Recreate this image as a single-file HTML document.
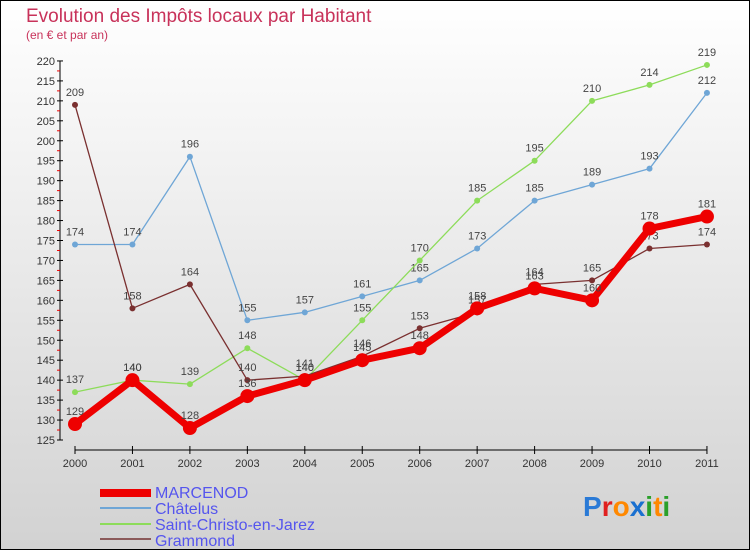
<!DOCTYPE html>
<html><head><meta charset="utf-8"><style>
body{margin:0;}
#c{width:750px;height:550px;position:relative;font-family:"Liberation Sans",sans-serif;}
</style></head><body>
<div id="c">
<svg id="s" width="750" height="550" xmlns="http://www.w3.org/2000/svg">
<defs><linearGradient id="bg" x1="0" y1="0" x2="0" y2="1"><stop offset="0" stop-color="#ffffff"/><stop offset="1" stop-color="#d2d2d2"/></linearGradient></defs>
<rect x="0.5" y="0.5" width="749" height="549" fill="url(#bg)" stroke="#000"/>
<text x="26" y="22" font-size="19" fill="#c8325a">Evolution des Impôts locaux par Habitant</text>
<text x="26" y="39" font-size="12" fill="#c8325a">(en € et par an)</text>
<g id="axes"></g><g id="series"></g>
<g font-size="16" fill="#5555ee">
<rect x="100" y="489" width="51" height="8" fill="#ee0000"/>
<text x="155" y="498">MARCENOD</text>
<rect x="100" y="507" width="51" height="2" fill="#6fa6d6"/>
<text x="155" y="514">Châtelus</text>
<rect x="100" y="523" width="51" height="2" fill="#8ddc5a"/>
<text x="155" y="530">Saint-Christo-en-Jarez</text>
<rect x="100" y="538" width="51" height="2" fill="#8b5a5a"/>
<text x="155" y="546">Grammond</text>
</g>
<g font-size="28" font-weight="bold">
<text x="583" y="516"><tspan fill="#2a7ad6">P</tspan><tspan fill="#e02020">r</tspan><tspan fill="#ff8800">o</tspan><tspan fill="#1a70d0">x</tspan><tspan fill="#2aa02a">i</tspan><tspan fill="#ff8800">t</tspan><tspan fill="#2aa02a">i</tspan></text>
</g>
</svg></div>
<script>
const years=[2000,2001,2002,2003,2004,2005,2006,2007,2008,2009,2010,2011];
const marcenod=[129,140,128,136,140,145,148,158,163,160,178,181];
const chatelus=[174,174,196,155,157,161,165,173,185,189,193,212];
const saintChristo=[137,140,139,148,140,155,170,185,195,210,214,219];
const grammond=[209,158,164,140,141,146,153,157,164,165,173,174];
const yTicks=[125,130,135,140,145,150,155,160,165,170,175,180,185,190,195,200,205,210,215,220];
const NS="http://www.w3.org/2000/svg";
const X=i=>75+i*57.45;
const Y=v=>440-(v-125)*3.99;
function mk(t,a,p){const e=document.createElementNS(NS,t);for(const k in a)e.setAttribute(k,a[k]);p.appendChild(e);return e;}
const ax=document.getElementById('axes');
let l=mk('line',{x1:60,y1:Y(220),x2:60,y2:Y(125),stroke:'#000'},ax);


yTicks.forEach((v,k)=>{
 mk('line',{x1:57,x2:63,y1:Y(v),y2:Y(v),stroke:'#000'},ax);
 if(k<yTicks.length-1) mk('line',{x1:57,x2:60,y1:Y(v+2.5),y2:Y(v+2.5),stroke:'#e00'},ax);
 const t=mk('text',{x:55,y:Y(v)+4,'font-size':11,'text-anchor':'end',fill:'#333'},ax);
 
 
 t.textContent=v;
});
l=mk('line',{x1:X(0),x2:X(11),y1:450,y2:450,stroke:'#000'},ax);


years.forEach((y,i)=>{
 mk('line',{x1:X(i),x2:X(i),y1:446,y2:454,stroke:'#000'},ax);
 const t=mk('text',{x:X(i),y:467,'font-size':11,'text-anchor':'middle',fill:'#333'},ax);
 
 
 t.textContent=y;
});
const sg=document.getElementById('series');
function draw(vals,color,w,r,name){
 const g=mk('g',{},sg);
 
 
 const pl=mk('polyline',{points:vals.map((v,i)=>X(i)+','+Y(v)).join(' '),fill:'none',stroke:color,'stroke-width':w,'stroke-linejoin':'round'},g);
 
 
 vals.forEach((v,i)=>{
  const c=mk('circle',{cx:X(i),cy:Y(v),r:r,fill:color},g);
  
  
  const t=mk('text',{x:X(i),y:Y(v)-9,'font-size':11,'text-anchor':'middle',fill:'#444'},g);
  
  
  t.textContent=v;
 });
}
draw(chatelus,'#6fa6d6',1.3,3,'series-chatelus');
draw(saintChristo,'#8ddc5a',1.3,3,'series-saint-christo');
draw(grammond,'#7a3030',1.3,3,'series-grammond');
draw(marcenod,'#ee0000',7,7,'series-marcenod');
</script>
</body></html>
